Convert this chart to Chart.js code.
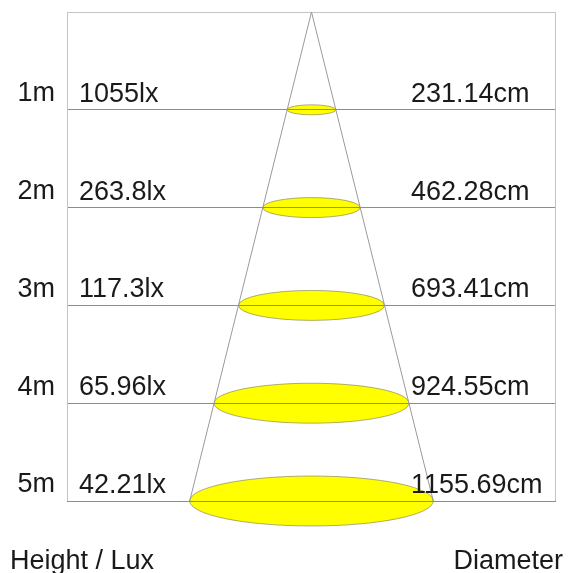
<!DOCTYPE html>
<html>
<head>
<meta charset="utf-8">
<script src="https://cdn.jsdelivr.net/npm/chart.js@4.4.1/dist/chart.umd.min.js"></script>
<style>
  html, body { margin: 0; padding: 0; background: #fff; }
  #wrap { width: 571px; height: 573px; position: relative; }
</style>
</head>
<body>
<div id="wrap"><canvas id="beamChart"></canvas></div>
<script>
// --- data ---
const heights = [1, 2, 3, 4, 5];
const heightLabels = ['1m', '2m', '3m', '4m', '5m'];
const luxLabels = ['1055lx', '263.8lx', '117.3lx', '65.96lx', '42.21lx'];
const diameters = [231.14, 462.28, 693.41, 924.55, 1155.69];
const diameterLabels = ['231.14cm', '462.28cm', '693.41cm', '924.55cm', '1155.69cm'];
const leftTitle = 'Height / Lux';
const rightTitle = 'Diameter';

const FONT = '"Liberation Sans", Arial, sans-serif';
Chart.defaults.font.family = FONT;

const last = diameters.length - 1;
const conePoints = [
    { x: -diameters[last] / 2, y: heights[last] },
    { x: 0, y: 0 },
    { x: diameters[last] / 2, y: heights[last] }
];

// spots: ellipses drawn under the grid lines
const spotPlugin = {
    id: 'spots',
    beforeDraw(chart) {
        const { ctx, scales: { x, y } } = chart;
        ctx.save();
        heights.forEach((h, i) => {
            const cx = x.getPixelForValue(0);
            const cy = y.getPixelForValue(h);
            const rx = x.getPixelForValue(diameters[i] / 2) - cx;
            const ry = rx * 0.205;
            ctx.beginPath();
            ctx.ellipse(cx, cy, rx, ry, 0, 0, Math.PI * 2);
            ctx.fillStyle = '#ffff00';
            ctx.fill();
            ctx.lineWidth = 0.8;
            ctx.strokeStyle = 'rgba(110,110,80,0.7)';
            ctx.stroke();
        });
        ctx.restore();
    },
    afterDraw(chart) {
        const { ctx, chartArea: a, scales: { y } } = chart;
        ctx.save();
        // box
        ctx.strokeStyle = '#c4c4c4';
        ctx.lineWidth = 1;
        ctx.beginPath();
        ctx.moveTo(a.left + 0.5, a.top);
        ctx.lineTo(a.left + 0.5, a.bottom);
        ctx.moveTo(a.right - 0.5, a.top);
        ctx.lineTo(a.right - 0.5, a.bottom);
        ctx.stroke();

        ctx.fillStyle = '#1a1a1a';
        ctx.font = '27px ' + FONT;
        ctx.textBaseline = 'alphabetic';
        heights.forEach((h, i) => {
            const py = y.getPixelForValue(h) - 8;
            ctx.textAlign = 'left';
            ctx.fillText(luxLabels[i], a.left + 12, py);
            ctx.fillText(diameterLabels[i], a.left + 344, py);
        });
        ctx.textAlign = 'left';
        ctx.fillText(leftTitle, 10, 569);
        ctx.textAlign = 'right';
        ctx.fillText(rightTitle, 563, 569);
        ctx.restore();
    }
};

new Chart(document.getElementById('beamChart'), {
    type: 'scatter',
    data: {
        datasets: [{
            data: conePoints,
            showLine: true,
            borderColor: '#9a9a9a',
            borderWidth: 1,
            pointRadius: 0,
            fill: false
        }]
    },
    options: {
        responsive: true,
        maintainAspectRatio: false,
        animation: false,
        layout: { padding: { top: 12, right: 15, bottom: 72, left: 0 } },
        plugins: { legend: { display: false }, tooltip: { enabled: false } },
        scales: {
            x: {
                display: false,
                min: -1160,
                max: 1160
            },
            y: {
                reverse: true,
                min: 0,
                max: 5,
                afterFit: s => { s.width = 67; s.paddingTop = 0; s.paddingBottom = 0; },
                border: { display: false },
                grid: {
                    drawTicks: false,
                    color: c => c.tick.value === 0 ? '#c4c4c4' : '#8c8c8c'
                },
                ticks: {
                    stepSize: 1,
                    padding: 12,
                    labelOffset: -16,
                    color: '#1a1a1a',
                    font: { size: 27 },
                    callback: v => {
                        const i = heights.indexOf(v);
                        return i >= 0 ? heightLabels[i] : '';
                    }
                }
            }
        }
    },
    plugins: [spotPlugin]
});
</script>
</body>
</html>
